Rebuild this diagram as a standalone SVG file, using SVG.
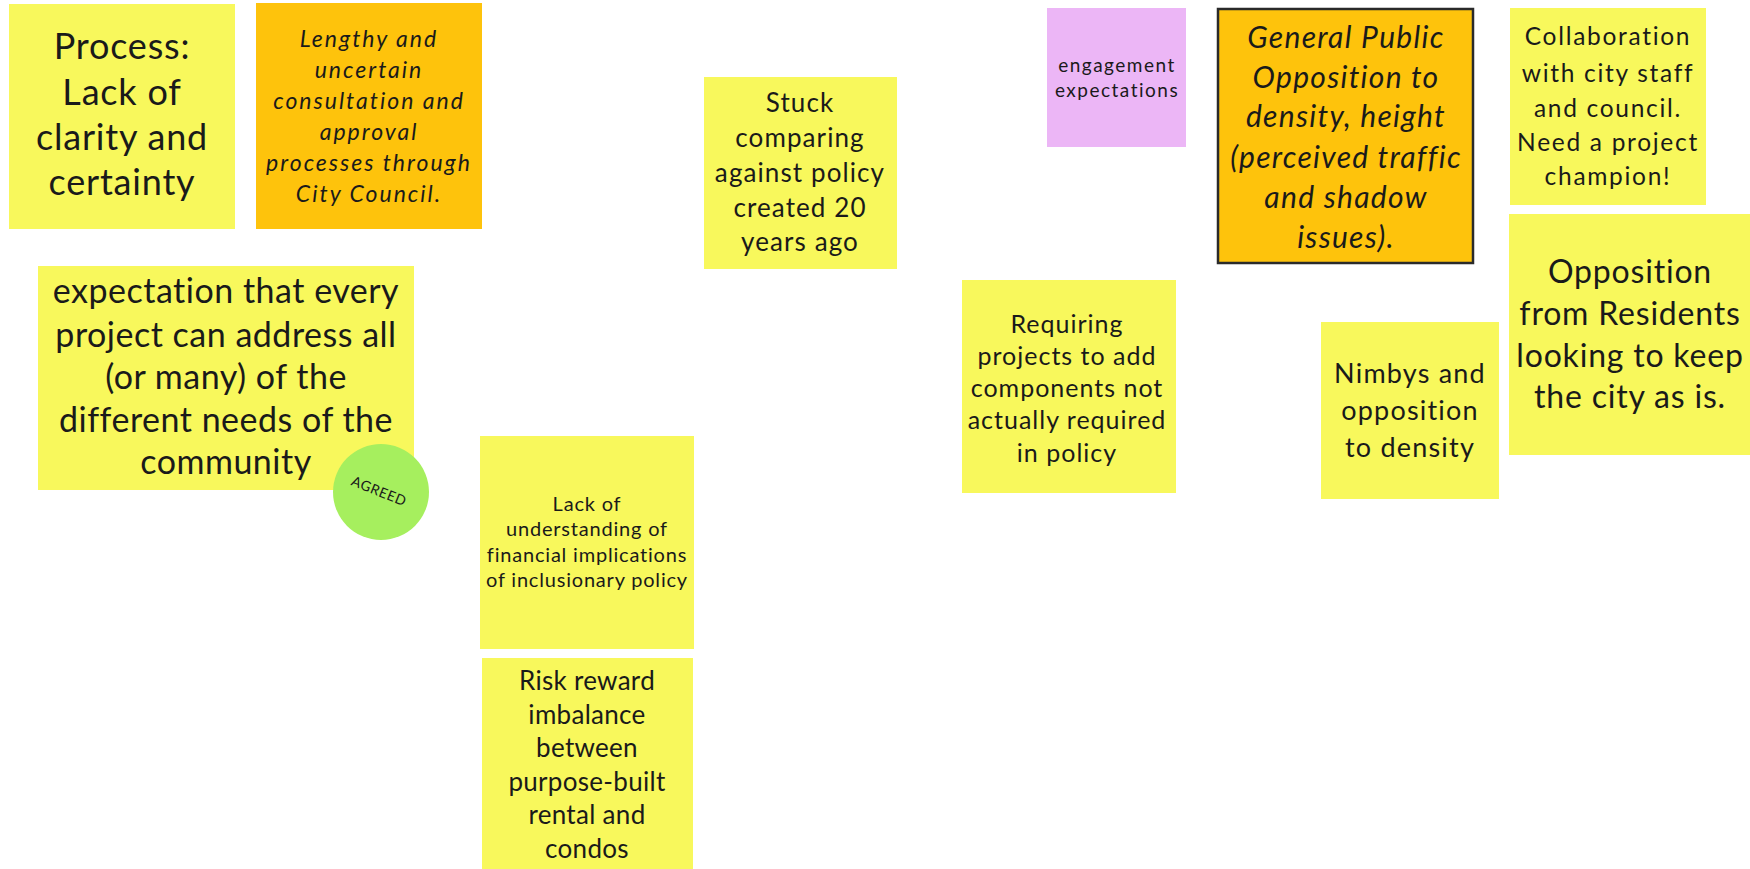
<svg xmlns="http://www.w3.org/2000/svg" width="1750" height="869" viewBox="0 0 1750 869">
<style>
  text { font-family: Lato, "Open Sans", "Liberation Sans", sans-serif; fill: #1a1a1a; text-anchor: middle; }
  .y { fill: #F8F85C; }
  .o { fill: #FEC30C; }
  .p { fill: #ECB6F6; }
  .it { font-style: italic; }
</style>
<rect width="1750" height="869" fill="#ffffff"/>
<g id="connectors"></g>

<g id="n-process">
  <rect class="y" x="9" y="4" width="226" height="225"/>
  <text font-size="36" letter-spacing="0.8"><tspan x="122" y="59">Process:</tspan><tspan x="122" y="105">Lack of</tspan><tspan x="122" y="150">clarity and</tspan><tspan x="122" y="195">certainty</tspan></text>
</g>

<g id="n-lengthy">
  <rect class="o" x="256" y="3" width="226" height="226"/>
  <text class="it" font-size="23" letter-spacing="2"><tspan x="369" y="47">Lengthy and</tspan><tspan x="369" y="78">uncertain</tspan><tspan x="369" y="109">consultation and</tspan><tspan x="369" y="140">approval</tspan><tspan x="369" y="171">processes through</tspan><tspan x="369" y="202">City Council.</tspan></text>
</g>

<g id="n-expectation">
  <rect class="y" x="38" y="266" width="376" height="224"/>
  <text font-size="34" letter-spacing="0.5"><tspan x="226" y="303">expectation that every</tspan><tspan x="226" y="347">project can address all</tspan><tspan x="226" y="389">(or many) of the</tspan><tspan x="226" y="432">different needs of the</tspan><tspan x="226" y="474">community</tspan></text>
</g>

<g id="n-agreed">
  <circle cx="381" cy="492" r="48" fill="#A6EF5E"/>
  <text font-size="14" letter-spacing="0.5" transform="rotate(22 379 491)" x="379" y="496">AGREED</text>
</g>

<g id="n-lack">
  <rect class="y" x="480" y="436" width="214" height="213"/>
  <text font-size="20" letter-spacing="0.8"><tspan x="587" y="511">Lack of</tspan><tspan x="587" y="536">understanding of</tspan><tspan x="587" y="562">financial implications</tspan><tspan x="587" y="587">of inclusionary policy</tspan></text>
</g>

<g id="n-risk">
  <rect class="y" x="482" y="658" width="211" height="211"/>
  <text font-size="26" letter-spacing="0.3"><tspan x="587" y="690">Risk reward</tspan><tspan x="587" y="724">imbalance</tspan><tspan x="587" y="757">between</tspan><tspan x="587" y="791">purpose-built</tspan><tspan x="587" y="824">rental and</tspan><tspan x="587" y="858">condos</tspan></text>
</g>

<g id="n-stuck">
  <rect class="y" x="704" y="77" width="193" height="192"/>
  <text font-size="26" letter-spacing="1.1"><tspan x="800" y="112">Stuck</tspan><tspan x="800" y="147">comparing</tspan><tspan x="800" y="182">against policy</tspan><tspan x="800" y="217">created 20</tspan><tspan x="800" y="251">years ago</tspan></text>
</g>

<g id="n-engagement">
  <rect class="p" x="1047" y="8" width="139" height="139"/>
  <text font-size="19" letter-spacing="1.5"><tspan x="1117" y="72">engagement</tspan><tspan x="1117" y="97">expectations</tspan></text>
</g>

<g id="n-requiring">
  <rect class="y" x="962" y="280" width="214" height="213"/>
  <text font-size="25" letter-spacing="1"><tspan x="1067" y="333">Requiring</tspan><tspan x="1067" y="365">projects to add</tspan><tspan x="1067" y="397">components not</tspan><tspan x="1067" y="429">actually required</tspan><tspan x="1067" y="462">in policy</tspan></text>
</g>

<g id="n-general">
  <rect class="o" x="1218" y="9" width="255" height="254" stroke="#2a2a2a" stroke-width="2.5"/>
  <text class="it" font-size="30" letter-spacing="1.3"><tspan x="1346" y="48">General Public</tspan><tspan x="1346" y="88">Opposition to</tspan><tspan x="1346" y="127">density, height</tspan><tspan x="1346" y="168">(perceived traffic</tspan><tspan x="1346" y="208">and shadow</tspan><tspan x="1346" y="248">issues).</tspan></text>
</g>

<g id="n-collaboration">
  <rect class="y" x="1510" y="8" width="196" height="197"/>
  <text font-size="24.5" letter-spacing="1.7"><tspan x="1608" y="45">Collaboration</tspan><tspan x="1608" y="82">with city staff</tspan><tspan x="1608" y="117">and council.</tspan><tspan x="1608" y="151">Need a project</tspan><tspan x="1608" y="185">champion!</tspan></text>
</g>

<g id="n-opposition">
  <rect class="y" x="1509" y="214" width="241" height="241"/>
  <text font-size="32" letter-spacing="0.8"><tspan x="1630" y="283">Opposition</tspan><tspan x="1630" y="325">from Residents</tspan><tspan x="1630" y="367">looking to keep</tspan><tspan x="1630" y="408">the city as is.</tspan></text>
</g>

<g id="n-nimbys">
  <rect class="y" x="1321" y="322" width="178" height="177"/>
  <text font-size="27" letter-spacing="1.2"><tspan x="1410" y="383">Nimbys and</tspan><tspan x="1410" y="420">opposition</tspan><tspan x="1410" y="457">to density</tspan></text>
</g>
</svg>
